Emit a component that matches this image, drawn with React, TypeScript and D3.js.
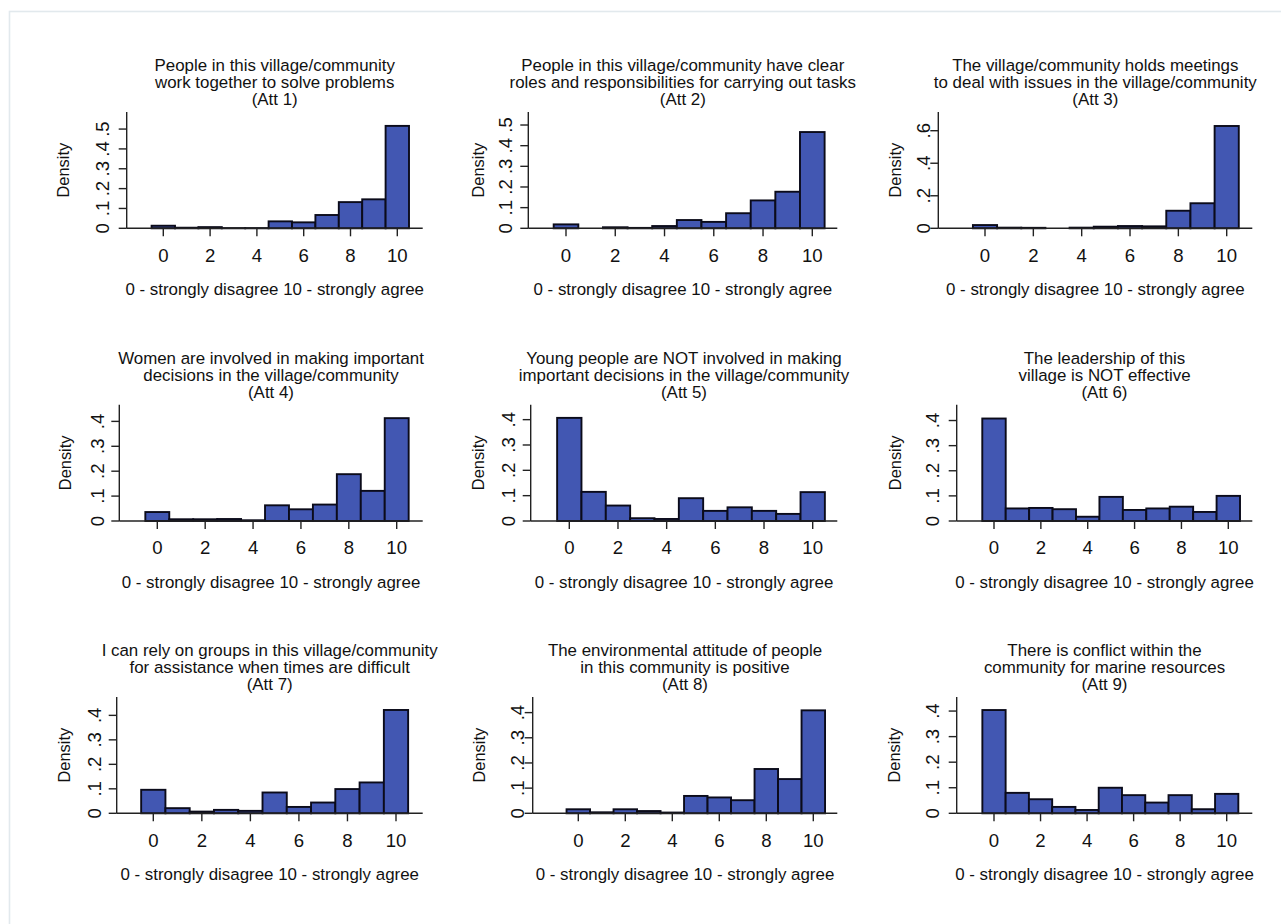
import React from "react";
import * as d3 from "d3";

const categories = [0, 1, 2, 3, 4, 5, 6, 7, 8, 9, 10];
const xTicks = [0, 2, 4, 6, 8, 10];

const titles = [
  ["People in this village/community", "work together to solve problems", "(Att 1)"],
  ["People in this village/community have clear", "roles and responsibilities for carrying out tasks", "(Att 2)"],
  ["The village/community holds meetings", "to deal with issues in the village/community", "(Att 3)"],
  ["Women are involved in making important", "decisions in the village/community", "(Att 4)"],
  ["Young people are NOT involved in making", "important decisions in the village/community", "(Att 5)"],
  ["The leadership of this", "village is NOT effective", "(Att 6)"],
  ["I can rely on groups in this village/community", "for assistance when times are difficult", "(Att 7)"],
  ["The environmental attitude of people", "in this community is positive", "(Att 8)"],
  ["There is conflict within the", "community for marine resources", "(Att 9)"],
];

const att1 = [0.013, 0.003, 0.006, 0.001, 0.001, 0.035, 0.03, 0.067, 0.132, 0.146, 0.516];
const att2 = [0.019, 0, 0.005, 0.002, 0.011, 0.04, 0.031, 0.073, 0.135, 0.177, 0.466];
const att3 = [0.02, 0.004, 0.003, 0, 0.004, 0.01, 0.014, 0.012, 0.108, 0.154, 0.629];
const att4 = [0.036, 0.007, 0.007, 0.008, 0.003, 0.063, 0.047, 0.066, 0.188, 0.121, 0.413];
const att5 = [0.407, 0.115, 0.061, 0.011, 0.008, 0.09, 0.04, 0.054, 0.04, 0.028, 0.114];
const att6 = [0.408, 0.05, 0.052, 0.047, 0.017, 0.096, 0.044, 0.05, 0.057, 0.036, 0.1];
const att7 = [0.096, 0.021, 0.007, 0.014, 0.01, 0.085, 0.026, 0.044, 0.099, 0.126, 0.422];
const att8 = [0.016, 0.004, 0.016, 0.009, 0.003, 0.069, 0.063, 0.052, 0.176, 0.136, 0.409];
const att9 = [0.404, 0.08, 0.055, 0.025, 0.013, 0.1, 0.071, 0.042, 0.071, 0.016, 0.076];

const series = [att1, att2, att3, att4, att5, att6, att7, att8, att9];

const yTicksA = [0, 0.1, 0.2, 0.3, 0.4, 0.5];
const yTicksB = [0, 0.2, 0.4, 0.6];
const yTicksC = [0, 0.1, 0.2, 0.3, 0.4];
const yTickSets = [yTicksA, yTicksA, yTicksB, yTicksC, yTicksC, yTicksC, yTicksC, yTicksC, yTicksC];
const yMaxes = [0.586, 0.563, 0.715, 0.467, 0.459, 0.463, 0.475, 0.462, 0.455];

// layout: axisX, px of x=0, px of x=10, right end, baseline y, tick-label baseline x, "Density" centre x
const layout = [
  [126.7, 163.3, 397.3, 422.7, 228.3, 108.5, 63.5],
  [528.3, 566, 812.3, 837.3, 228.3, 512, 478.5],
  [938.3, 985, 1226.7, 1252.3, 228.3, 929.5, 895.5],
  [119.3, 157.3, 396.7, 422.7, 521, 103.5, 65],
  [530.7, 569.3, 812.7, 837.3, 521, 515, 478.5],
  [956.7, 994, 1228.3, 1252.3, 521, 938.5, 895],
  [116.7, 153.3, 396, 422.7, 813.3, 100.5, 64],
  [532.7, 578.3, 813.3, 837.3, 813.3, 524, 479],
  [956.7, 994, 1226.7, 1252.3, 813.3, 938.5, 894.5],
];

const FONT = "'Liberation Sans', Arial, sans-serif";
const PLOT_H = 116.3;

function fmt(v: number) {
  if (v === 0) return "0";
  return d3.format(".1f")(v).replace(/^0/, "");
}

function Panel({ i }: { i: number }) {
  const [axisX, px0, px10, right, base, labX, densX] = layout[i];
  const x = d3.scaleLinear().domain([0, 10]).range([px0, px10]);
  const y = d3.scaleLinear().domain([0, yMaxes[i]]).range([base, base - PLOT_H]);
  const top = base - PLOT_H;
  const cx = (axisX + right) / 2;
  const data = series[i];
  return (
    <g>
      {titles[i].map((t, k) => (
        <text key={k} x={cx} y={base - 157.5 + k * 17.3} textAnchor="middle" fontSize={16.9} fill="#111">
          {t}
        </text>
      ))}
      {categories.map((c, k) =>
        data[k] > 0 ? (
          <rect
            key={c}
            x={x(c - 0.5)}
            y={y(data[k])}
            width={x(c + 0.5) - x(c - 0.5)}
            height={base - y(data[k])}
            fill="#4257b2"
            stroke="#0b0b1a"
            strokeWidth={1.9}
          />
        ) : null
      )}
      <line x1={axisX} x2={right} y1={base} y2={base} stroke="#222" strokeWidth={1.4} />
      <line x1={axisX} x2={axisX} y1={base} y2={top} stroke="#222" strokeWidth={1.4} />
      {xTicks.map((t) => (
        <g key={t}>
          <line x1={x(t)} x2={x(t)} y1={base} y2={base + 8} stroke="#222" strokeWidth={1.4} />
          <text x={x(t)} y={base + 33.4} textAnchor="middle" fontSize={18.6} fill="#111">
            {t}
          </text>
        </g>
      ))}
      {yTickSets[i].map((t) => (
        <g key={t}>
          <line x1={axisX - 8} x2={axisX} y1={y(t)} y2={y(t)} stroke="#222" strokeWidth={1.4} />
          <text
            transform={`translate(${labX},${y(t)}) rotate(-90)`}
            textAnchor="middle"
            fontSize={18.6}
            fill="#111"
          >
            {fmt(t)}
          </text>
        </g>
      ))}
      <text
        transform={`translate(${densX + 5.5},${(base + top) / 2}) rotate(-90)`}
        textAnchor="middle"
        fontSize={16.4}
        fill="#111"
      >
        Density
      </text>
      <text x={cx} y={base + 67} textAnchor="middle" fontSize={16.9} fill="#111">
        0 - strongly disagree 10 - strongly agree
      </text>
    </g>
  );
}

export default function App() {
  return (
    <svg
      width={1281}
      height={924}
      style={{ position: "absolute", left: 0, top: 0, background: "#fff" }}
      fontFamily={FONT}
    >
      <rect x={0} y={0} width={1281} height={924} fill="#fff" />
      <rect x={9.5} y={11.5} width={1400} height={1000} fill="none" stroke="#e2e9ed" strokeWidth={1.6} />
      {series.map((_, i) => (
        <Panel key={i} i={i} />
      ))}
    </svg>
  );
}
